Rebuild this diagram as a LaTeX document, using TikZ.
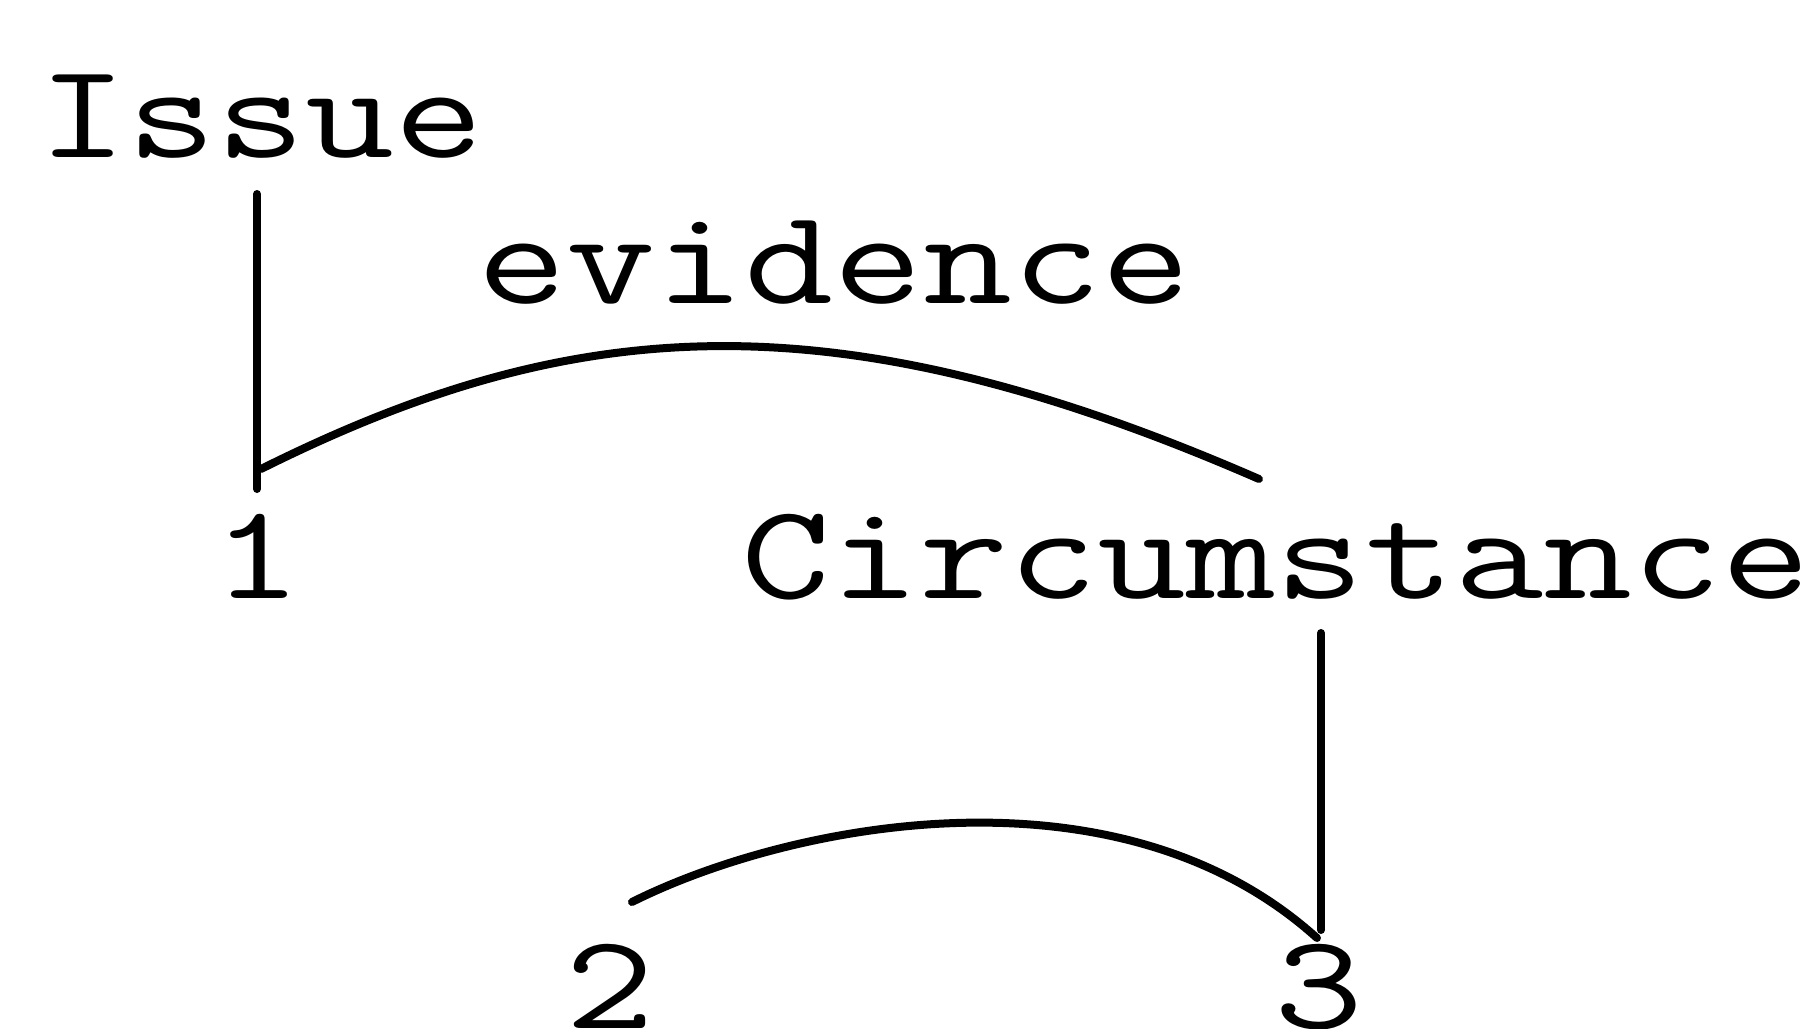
\documentclass[tikz,border=0pt]{standalone}
\usepackage{fontspec}
\usepackage{graphicx}
\newcommand{\widetxt}[1]{\scalebox{1.28}[1]{#1}}
\begin{document}
\begin{tikzpicture}[x=0.25pt,y=-0.25pt,
  lbl/.style={inner sep=0pt,anchor=base,font=\ttfamily\fontsize{33.8pt}{40pt}\selectfont},
  conn/.style={line width=2pt,line cap=round,line join=round}]
\useasboundingbox (0,0) rectangle (1814,1029);
\node[lbl] (issue) at (261,157) {\widetxt{Issue}};
\node[lbl] (ev) at (834,303) {\widetxt{evidence}};
\node[lbl] (n1) at (257,598) {\widetxt{1}};
\node[lbl] (circ) at (1276,598) {\widetxt{Circumstance}};
\node[lbl] (n2) at (610,1028) {\widetxt{2}};
\node[lbl] (n3) at (1319,1028) {\widetxt{3}};
% attachment points
\coordinate (t1) at (257,194);
\coordinate (b1) at (257,489);
\coordinate (a1s) at (261,469);
\coordinate (a1e) at (1259,479);
\coordinate (t2) at (1321,633);
\coordinate (b2) at (1321,930);
\coordinate (a2s) at (632,902);
\coordinate (a2e) at (1317,938);
\draw[conn] (t1) -- (b1);
\draw[conn] (a1s) .. controls (570,315) and (830,292) .. (a1e);
\draw[conn] (t2) -- (b2);
\draw[conn] (a2s) .. controls (792,822) and (1119,759) .. (a2e);
\end{tikzpicture}
\end{document}
